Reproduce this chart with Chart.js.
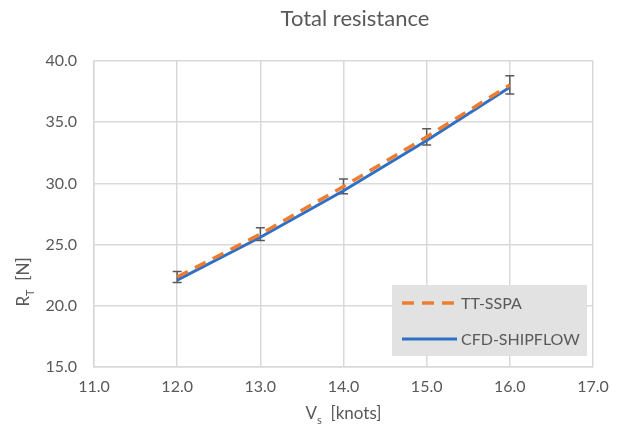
<!DOCTYPE html>
<html>
<head>
<meta charset="utf-8">
<script src="https://cdn.jsdelivr.net/npm/chart.js@4.4.0/dist/chart.umd.min.js"></script>
<style>
  html, body { margin: 0; padding: 0; background: #fff; }
</style>
</head>
<body>
<canvas id="chart" width="622" height="437"></canvas>
<script>
// values
const speeds = [12.0, 13.0, 14.0, 15.0, 16.0];
const ttSspa = [22.35, 25.85, 29.75, 33.8, 38.05];
const ttErr = [0.45, 0.52, 0.6, 0.66, 0.75];
const cfdShipflow = [22.1, 25.6, 29.4, 33.5, 37.85];
const seriesNames = ["TT-SSPA", "CFD-SHIPFLOW"];

const FONT = "Lato, 'Open Sans', sans-serif";
const TEXT = "#595959";

function pts(ys) {
  return speeds.map((x, i) => ({ x: x, y: ys[i] }));
}

// title, axis titles (with subscripts), error bars and legend box
const extras = {
  id: "extras",
  beforeDatasetsDraw(chart) {
    const ctx = chart.ctx;
    const xs = chart.scales.x, ys = chart.scales.y;
    ctx.save();
    ctx.strokeStyle = "#595959";
    ctx.lineWidth = 1.5;
    speeds.forEach((s, i) => {
      const px = xs.getPixelForValue(s);
      const top = ys.getPixelForValue(ttSspa[i] + ttErr[i]);
      const bot = ys.getPixelForValue(ttSspa[i] - ttErr[i]);
      ctx.beginPath();
      ctx.moveTo(px, top); ctx.lineTo(px, bot);
      ctx.moveTo(px - 4.5, top); ctx.lineTo(px + 4.5, top);
      ctx.moveTo(px - 4.5, bot); ctx.lineTo(px + 4.5, bot);
      ctx.stroke();
    });
    ctx.restore();
  },
  afterDraw(chart) {
    const ctx = chart.ctx;
    const area = chart.chartArea;
    ctx.save();
    ctx.fillStyle = TEXT;
    ctx.textBaseline = "middle";

    // chart title
    ctx.font = "22px " + FONT;
    ctx.textAlign = "center";
    ctx.fillText("Total resistance", 355, 19);

    // x axis title: V_s [knots]
    ctx.font = "17px " + FONT;
    const xa1 = "V", xa2 = "s", xa3 = "  [knots]";
    const w1 = ctx.measureText(xa1).width;
    ctx.font = "11px " + FONT;
    const w2 = ctx.measureText(xa2).width;
    ctx.font = "17px " + FONT;
    const w3 = ctx.measureText(xa3).width;
    let x0 = (area.left + area.right) / 2 - (w1 + w2 + w3) / 2;
    ctx.textAlign = "left";
    ctx.fillText(xa1, x0, 414);
    ctx.font = "11px " + FONT;
    ctx.fillText(xa2, x0 + w1, 420);
    ctx.font = "17px " + FONT;
    ctx.fillText(xa3, x0 + w1 + w2, 414);

    // y axis title: R_T [N], rotated
    ctx.translate(24, 282);
    ctx.rotate(-Math.PI / 2);
    const ya1 = "R", ya2 = "T", ya3 = "  [N]";
    const v1 = ctx.measureText(ya1).width;
    ctx.font = "11px " + FONT;
    const v2 = ctx.measureText(ya2).width;
    ctx.font = "17px " + FONT;
    const v3 = ctx.measureText(ya3).width;
    let y0 = -(v1 + v2 + v3) / 2;
    ctx.fillText(ya1, y0, 0);
    ctx.font = "11px " + FONT;
    ctx.fillText(ya2, y0 + v1, 6);
    ctx.font = "17px " + FONT;
    ctx.fillText(ya3, y0 + v1 + v2, 0);
    ctx.restore();

    // legend box
    ctx.save();
    ctx.fillStyle = "#e2e2e2";
    ctx.fillRect(392, 285, 195, 71);
    chart.data.datasets.forEach((ds, i) => {
      const ly = 303 + i * 36;
      ctx.strokeStyle = ds.borderColor;
      ctx.lineWidth = ds.borderWidth;
      ctx.setLineDash(ds.borderDash || []);
      ctx.beginPath();
      ctx.moveTo(402, ly); ctx.lineTo(457, ly);
      ctx.stroke();
      ctx.setLineDash([]);
      ctx.fillStyle = TEXT;
      ctx.font = "16px " + FONT;
      ctx.textAlign = "left";
      ctx.textBaseline = "middle";
      ctx.fillText(ds.label, 461, ly + 1);
    });
    ctx.restore();
  }
};

new Chart(document.getElementById("chart"), {
  type: "line",
  data: {
    datasets: [
      {
        label: seriesNames[0],
        data: pts(ttSspa),
        borderColor: "#ed7d31",
        borderWidth: 3.5,
        borderDash: [12, 8],
        pointRadius: 0,
        fill: false,
        order: 1
      },
      {
        label: seriesNames[1],
        data: pts(cfdShipflow),
        borderColor: "#2f6fc6",
        borderWidth: 3,
        pointRadius: 0,
        fill: false,
        order: 2
      }
    ]
  },
  options: {
    responsive: false,
    animation: false,
    layout: { padding: { left: 0, right: 29, top: 61, bottom: 0 } },
    plugins: {
      legend: { display: false },
      title: { display: false },
      tooltip: { enabled: false }
    },
    scales: {
      x: {
        type: "linear",
        min: 11, max: 17,
        afterFit(scale) { scale.height = 70; },
        ticks: {
          stepSize: 1,
          padding: 10,
          color: TEXT,
          font: { family: FONT, size: 16 },
          callback: v => v.toFixed(1)
        },
        grid: { color: "#d9d9d9", lineWidth: 1.5, drawTicks: false },
        border: { color: "#d9d9d9", width: 1.5 }
      },
      y: {
        min: 15, max: 40,
        afterFit(scale) { scale.width = 94; },
        ticks: {
          stepSize: 5,
          padding: 17,
          color: TEXT,
          font: { family: FONT, size: 16 },
          callback: v => v.toFixed(1)
        },
        grid: { color: "#d9d9d9", lineWidth: 1.5, drawTicks: false },
        border: { color: "#d9d9d9", width: 1.5 }
      }
    }
  },
  plugins: [extras]
});
</script>
</body>
</html>
